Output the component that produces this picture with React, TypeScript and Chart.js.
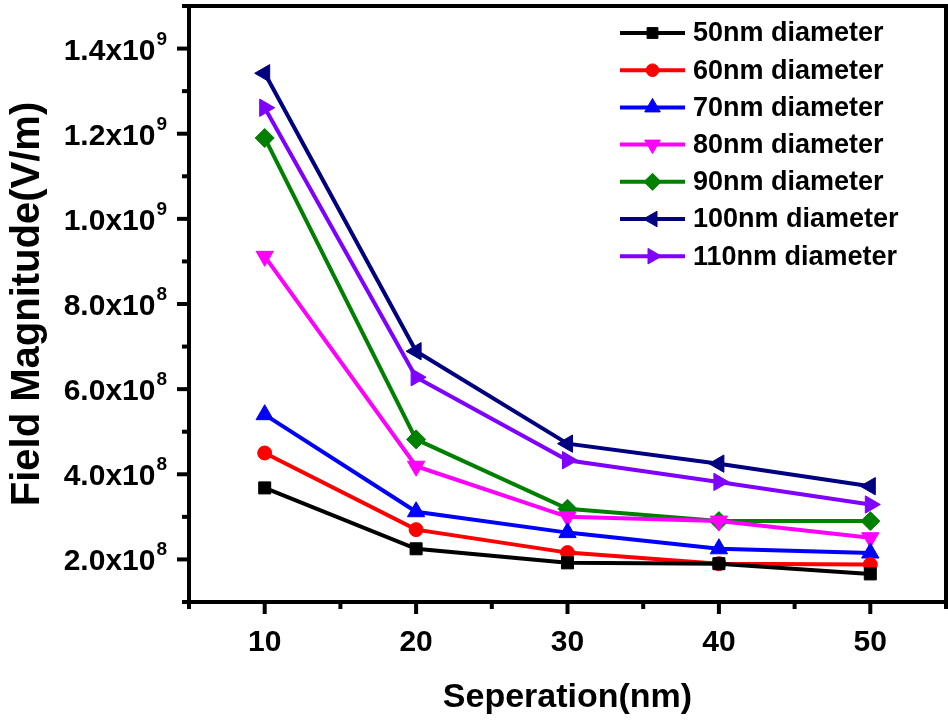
import React, { useEffect, useRef } from 'react';
import { Chart, registerables } from 'chart.js';

Chart.register(...registerables);

// ---------- data ----------
const separations = [10, 20, 30, 40, 50];

const seriesLabels = [
  '50nm diameter',
  '60nm diameter',
  '70nm diameter',
  '80nm diameter',
  '90nm diameter',
  '100nm diameter',
  '110nm diameter',
];

const d50 = [3.68e8, 2.25e8, 1.92e8, 1.9e8, 1.66e8];
const d60 = [4.5e8, 2.7e8, 2.16e8, 1.9e8, 1.88e8];
const d70 = [5.4e8, 3.12e8, 2.63e8, 2.25e8, 2.15e8];
const d80 = [9.12e8, 4.19e8, 3.0e8, 2.9e8, 2.51e8];
const d90 = [11.9e8, 4.82e8, 3.19e8, 2.9e8, 2.9e8];
const d100 = [13.42e8, 6.89e8, 4.72e8, 4.25e8, 3.72e8];
const d110 = [12.61e8, 6.28e8, 4.33e8, 3.82e8, 3.29e8];

const seriesValues = [d50, d60, d70, d80, d90, d100, d110];

const seriesColors = ['#000000', '#ff0000', '#0000ff', '#ff00ff', '#008000', '#000080', '#8000ff'];
const seriesMarkers = ['rect', 'circle', 'triangle', 'triangle', 'rectRot', 'triangle', 'triangle'];
const seriesRotations = [0, 0, 0, 180, 0, 270, 90];
const seriesRadii = [8.5, 7, 10, 10, 9.5, 10, 10];

const yTickValues = [2e8, 4e8, 6e8, 8e8, 10e8, 12e8, 14e8];
const yTickMantissas = ['2.0x10', '4.0x10', '6.0x10', '8.0x10', '1.0x10', '1.2x10', '1.4x10'];
const yTickExponents = ['8', '8', '8', '8', '9', '9', '9'];
const xTickLabels = ['10', '20', '30', '40', '50'];

const xTitle = 'Seperation(nm)';
const yTitle = 'Field Magnitude(V/m)';

const FONT = "'Liberation Sans', Arial, Helvetica, sans-serif";

// target plot-area box in page pixels
const AREA = { left: 189, top: 6, right: 946, bottom: 602 };

function drawMarker(ctx: CanvasRenderingContext2D, style: string, rotDeg: number, x: number, y: number, r: number) {
  let rad = (rotDeg * Math.PI) / 180;
  ctx.beginPath();
  if (style === 'circle') {
    ctx.arc(x, y, r, 0, Math.PI * 2);
  } else if (style === 'rect') {
    const s = r * Math.SQRT1_2;
    ctx.rect(x - s, y - s, 2 * s, 2 * s);
  } else if (style === 'rectRot') {
    ctx.moveTo(x, y - r);
    ctx.lineTo(x + r, y);
    ctx.lineTo(x, y + r);
    ctx.lineTo(x - r, y);
  } else {
    for (let i = 0; i < 3; i++) {
      const px = x + Math.sin(rad) * r;
      const py = y - Math.cos(rad) * r;
      if (i === 0) ctx.moveTo(px, py);
      else ctx.lineTo(px, py);
      rad += (2 * Math.PI) / 3;
    }
  }
  ctx.closePath();
  ctx.fill();
  ctx.stroke();
}

const framePlugin = {
  id: 'frameAndLegend',
  afterDraw(chart: any) {
    const ctx: CanvasRenderingContext2D = chart.ctx;
    const ca = chart.chartArea;
    const xs = chart.scales.x;
    const ys = chart.scales.y;
    ctx.save();
    ctx.strokeStyle = '#000';
    ctx.fillStyle = '#000';
    ctx.lineWidth = 4;
    ctx.lineCap = 'butt';
    // ticks (outward)
    ys.ticks.forEach((t: any) => {
      const k = Math.round(t.value / 1e8);
      const len = k % 2 === 0 ? 12 : 7;
      const py = ys.getPixelForValue(t.value);
      ctx.beginPath();
      ctx.moveTo(ca.left, py);
      ctx.lineTo(ca.left - len, py);
      ctx.stroke();
    });
    xs.ticks.forEach((t: any) => {
      const k = Math.round(t.value);
      const len = k % 10 === 0 ? 12 : 7;
      const px = xs.getPixelForValue(t.value);
      ctx.beginPath();
      ctx.moveTo(px, ca.bottom);
      ctx.lineTo(px, ca.bottom + len);
      ctx.stroke();
    });
    // frame
    ctx.strokeRect(ca.left, ca.top, ca.right - ca.left, ca.bottom - ca.top);

    // y tick labels with superscript exponents
    ctx.fillStyle = '#000';
    ctx.textBaseline = 'alphabetic';
    yTickValues.forEach((v, i) => {
      const py = ys.getPixelForValue(v);
      ctx.font = `bold 19px ${FONT}`;
      const ew = ctx.measureText(yTickExponents[i]).width;
      const expX = ca.left - 22 - ew;
      ctx.textAlign = 'left';
      ctx.fillText(yTickExponents[i], expX, py - 4);
      ctx.font = `bold 30px ${FONT}`;
      ctx.textAlign = 'right';
      ctx.fillText(yTickMantissas[i], expX - 1, py + 11);
    });

    // legend
    const lineStart = ca.right - 326;
    const lineEnd = lineStart + 65;
    const row0 = ca.top + 27;
    const rowGap = 37.2;
    ctx.font = `bold 27px ${FONT}`;
    ctx.textBaseline = 'middle';
    ctx.textAlign = 'left';
    chart.data.datasets.forEach((ds: any, i: number) => {
      const y = row0 + i * rowGap;
      ctx.strokeStyle = ds.borderColor;
      ctx.fillStyle = ds.borderColor;
      ctx.lineWidth = 4;
      ctx.beginPath();
      ctx.moveTo(lineStart, y);
      ctx.lineTo(lineEnd, y);
      ctx.stroke();
      ctx.lineWidth = 1;
      drawMarker(ctx, seriesMarkers[i], seriesRotations[i], (lineStart + lineEnd) / 2, y, seriesRadii[i] * 0.9);
      ctx.fillStyle = '#000';
      ctx.fillText(ds.label, lineEnd + 8, y + 1);
    });
    ctx.restore();
  },
};

export default function App() {
  const ref = useRef<HTMLCanvasElement>(null);

  useEffect(() => {
    if (!ref.current) return;
    const datasets = seriesLabels.map((label, i) => ({
      label,
      data: separations.map((x, j) => ({ x, y: seriesValues[i][j] })),
      borderColor: seriesColors[i],
      backgroundColor: seriesColors[i],
      borderWidth: 4,
      tension: 0,
      pointStyle: seriesMarkers[i],
      rotation: seriesRotations[i],
      pointRadius: seriesRadii[i],
      pointBorderWidth: 1,
      pointBackgroundColor: seriesColors[i],
      pointBorderColor: seriesColors[i],
      clip: false as any,
    }));

    const chart = new Chart(ref.current, {
      type: 'line',
      data: { datasets },
      options: {
        animation: false,
        responsive: false,
        maintainAspectRatio: false,
        layout: { autoPadding: false, padding: { top: AREA.top, right: 948 - AREA.right, left: 0, bottom: 0 } },
        plugins: { legend: { display: false }, tooltip: { enabled: false } },
        scales: {
          x: {
            type: 'linear',
            min: 5,
            max: 55,
            ticks: {
              stepSize: 5,
              autoSkip: false,
              maxRotation: 0,
              padding: 11,
              color: '#000',
              font: { family: FONT, size: 30, weight: 'bold' },
              callback: (v: any) => {
                const k = Math.round(Number(v));
                const idx = separations.indexOf(k);
                return idx >= 0 ? xTickLabels[idx] : '';
              },
            },
            grid: { display: true, drawOnChartArea: false, drawTicks: true, tickLength: 12, tickColor: 'rgba(0,0,0,0)' },
            border: { display: false },
            title: {
              display: true,
              text: xTitle,
              color: '#000',
              font: { family: FONT, size: 34, weight: 'bold' },
              padding: { top: 0, bottom: 6 },
            },
            afterFit: (s: any) => {
              s.height = 724 - AREA.bottom;
              s.paddingLeft = 0;
              s.paddingRight = 0;
            },
          },
          y: {
            type: 'linear',
            min: 1e8,
            max: 15e8,
            ticks: {
              stepSize: 1e8,
              autoSkip: false,
              display: false,
            },
            grid: { display: true, drawOnChartArea: false, drawTicks: true, tickLength: 12, tickColor: 'rgba(0,0,0,0)' },
            border: { display: false },
            title: {
              display: true,
              text: yTitle,
              color: '#000',
              font: { family: FONT, size: 40, weight: 'bold' },
              padding: { top: 4, bottom: 0 },
            },
            afterFit: (s: any) => {
              s.width = AREA.left;
              s.paddingTop = 0;
              s.paddingBottom = 0;
            },
          },
        },
      },
      plugins: [framePlugin],
    });

    return () => chart.destroy();
  }, []);

  return (
    <div style={{ position: 'fixed', left: 0, top: 0, width: 948, height: 724, background: '#fff' }}>
      <canvas ref={ref} width={948} height={724} style={{ display: 'block' }} />
    </div>
  );
}
